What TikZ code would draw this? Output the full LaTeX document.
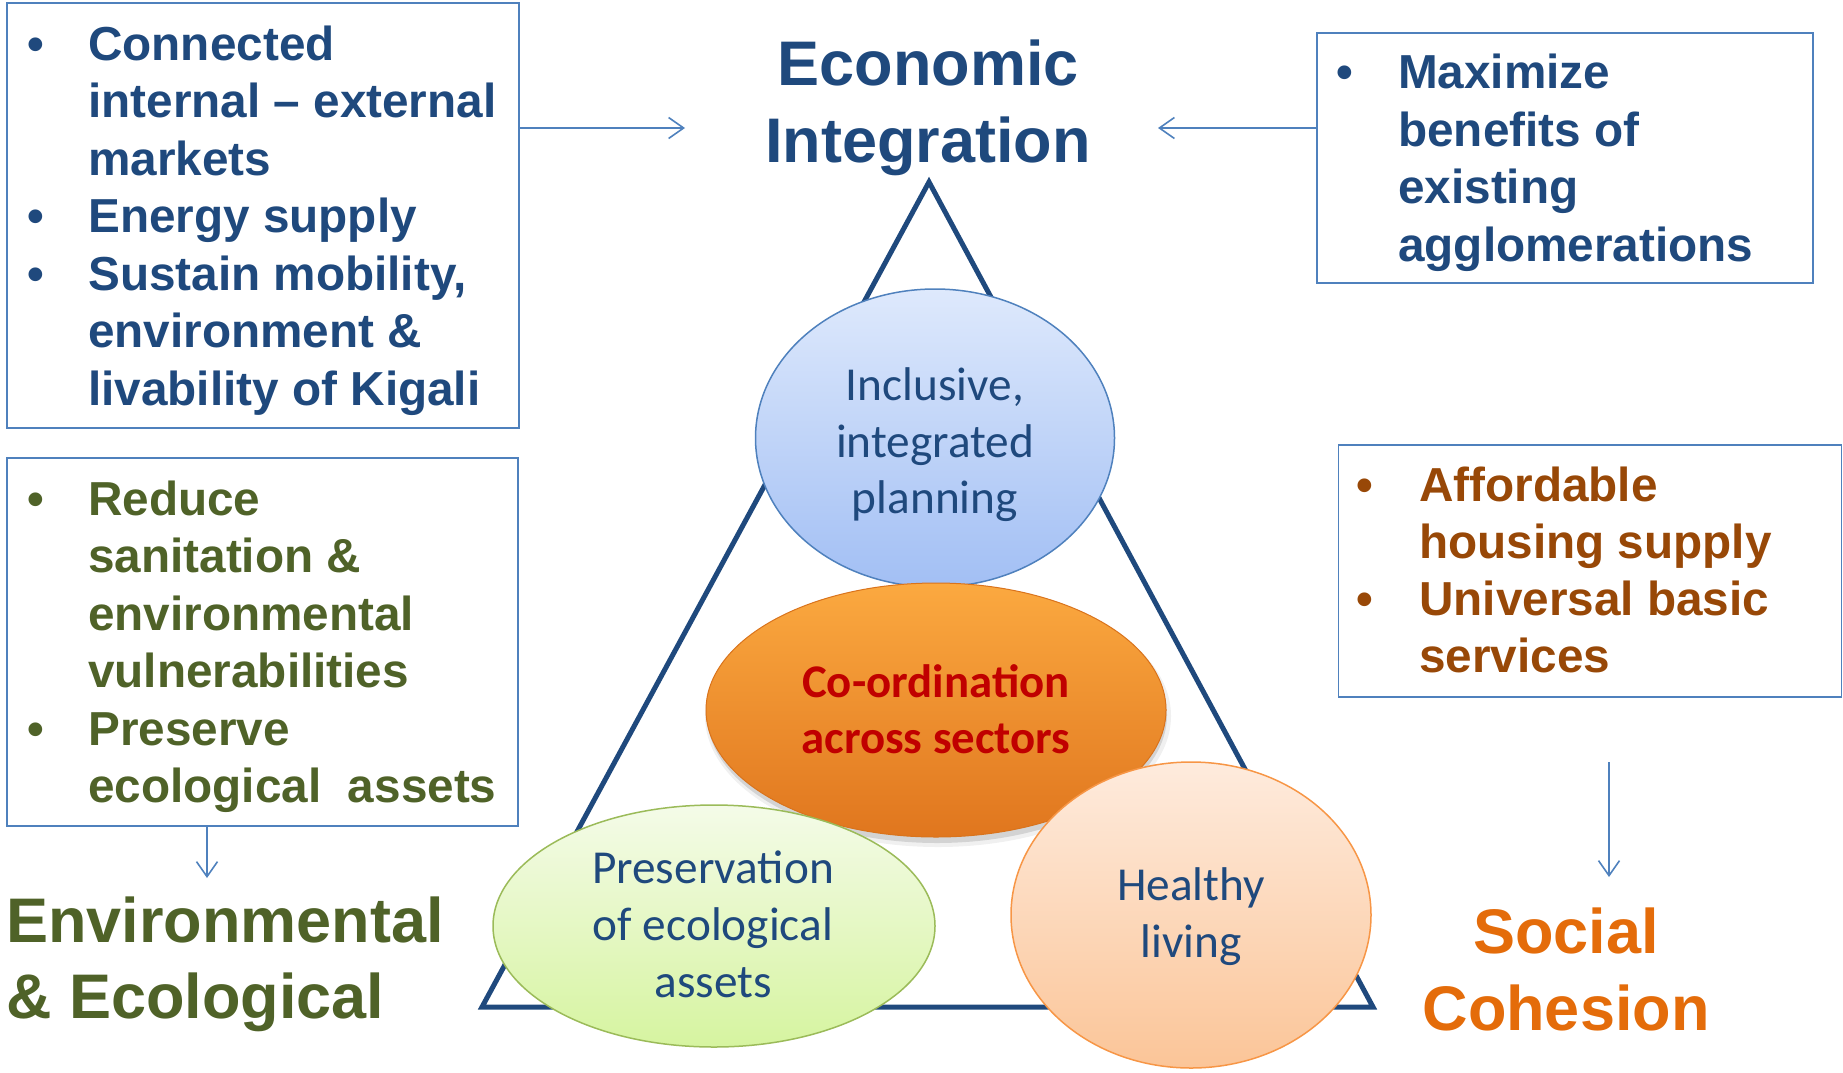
\documentclass[tikz,border=0pt]{standalone}
\usepackage{fontspec}
\setmainfont{Liberation Sans}
\newfontfamily\calibri{Carlito}
\usetikzlibrary{arrows.meta,shapes.geometric}
\definecolor{dblue}{HTML}{1F497D}
\definecolor{lblue}{HTML}{4F81BD}
\definecolor{dgreen}{HTML}{4F6228}
\definecolor{sbrown}{HTML}{984807}
\definecolor{sorange}{HTML}{E46C0A}
\definecolor{dred}{HTML}{C00000}
\definecolor{eBlueTop}{HTML}{DEE9FC}
\definecolor{eBlueBot}{HTML}{A2BFF4}
\definecolor{eOrTop}{HTML}{FBA940}
\definecolor{eOrBot}{HTML}{E0761E}
\definecolor{eOrLine}{HTML}{D9731C}
\definecolor{eGrTop}{HTML}{F4FBE8}
\definecolor{eGrBot}{HTML}{D6F4A0}
\definecolor{eGrLine}{HTML}{9BBB59}
\definecolor{ePeTop}{HTML}{FEEBDD}
\definecolor{ePeBot}{HTML}{FBC598}
\definecolor{ePeLine}{HTML}{F79646}
\begin{document}
\begin{tikzpicture}[x=1pt,y=-1pt,
  box/.style={draw=lblue,line width=1.8pt,inner sep=0pt},
  arr/.style={draw=lblue,line width=1.6pt,-{Straight Barb[length=15pt,width=21pt]}},
  bl/.style={anchor=base west,inner sep=0pt,font=\fontsize{47.7}{57.5}\selectfont\bfseries},
  bul/.style={anchor=base,inner sep=0pt,font=\fontsize{47.7}{57.5}\selectfont\bfseries},
  ttl/.style={inner sep=0pt,font=\fontsize{63}{76}\selectfont\bfseries},
  etxt/.style={anchor=base,inner sep=0pt,text=dblue,font=\calibri\fontsize{47.3}{57}\selectfont},
  otxt/.style={anchor=base,inner sep=0pt,text=dred,font=\calibri\bfseries\fontsize{46.8}{57}\selectfont},
  ell/.style={ellipse,inner sep=0pt,line width=1.5pt},
  tri/.style={draw=dblue,line width=5pt}
]
\useasboundingbox (0,0) rectangle (1843,1072);

% ---------- boxes ----------
\node[box,minimum width=512pt,minimum height=425pt] (b1) at (263,215.5) {};
\node[box,minimum width=496pt,minimum height=250pt] (b2) at (1565,158) {};
\node[box,minimum width=503pt,minimum height=252pt] (b3) at (1590,571) {};
\node[box,minimum width=511pt,minimum height=368pt] (b4) at (262.5,642) {};

% ---------- box 1 text ----------
\begin{scope}[every node/.append style={text=dblue}]
\node[bul] (b1u1) at (36,60) {•};
\node[bul] (b1u2) at (36,232) {•};
\node[bul] (b1u3) at (36,290) {•};
\node[bl] (b1l1) at (88,60) {Connected};
\node[bl] (b1l2) at (88,117) {internal – external};
\node[bl] (b1l3) at (88,175) {markets};
\node[bl] (b1l4) at (88,232) {Energy supply};
\node[bl] (b1l5) at (88,290) {Sustain mobility,};
\node[bl] (b1l6) at (88,347) {environment \&};
\node[bl] (b1l7) at (88,405) {livability of Kigali};
% box 2 text
\node[bul] (b2u1) at (1345,88) {•};
\node[bl] (b2l1) at (1398,88) {Maximize};
\node[bl] (b2l2) at (1398,146) {benefits of};
\node[bl] (b2l3) at (1398,203) {existing};
\node[bl] (b2l4) at (1398,261) {agglomerations};
\end{scope}

% ---------- box 3 text ----------
\begin{scope}[every node/.append style={text=sbrown}]
\node[bul] (b3u1) at (1365,501) {•};
\node[bul] (b3u2) at (1365,615) {•};
\node[bl] (b3l1) at (1419,501) {Affordable};
\node[bl] (b3l2) at (1419,558) {housing supply};
\node[bl] (b3l3) at (1419,615) {Universal basic};
\node[bl] (b3l4) at (1419,672) {services};
\end{scope}

% ---------- box 4 text ----------
\begin{scope}[every node/.append style={text=dgreen}]
\node[bul] (b4u1) at (36,515) {•};
\node[bul] (b4u2) at (36,745) {•};
\node[bl] (b4l1) at (88,515) {Reduce};
\node[bl] (b4l2) at (88,572.5) {sanitation \&};
\node[bl] (b4l3) at (88,630) {environmental};
\node[bl] (b4l4) at (88,687.5) {vulnerabilities};
\node[bl] (b4l5) at (88,745) {Preserve};
\node[bl] (b4l6) at (88,802.5) {ecological\ \ assets};
\end{scope}

% ---------- titles ----------
\node[ttl,anchor=base,text=dblue] (ec1) at (928,85) {Economic};
\node[ttl,anchor=base,text=dblue] (ec2) at (928,162) {Integration};
\node[ttl,anchor=base west,text=dgreen] (en1) at (6,942) {Environmental};
\node[ttl,anchor=base west,text=dgreen] (en2) at (6,1018) {\& Ecological};
\node[ttl,anchor=base,text=sorange] (so1) at (1566,953) {Social};
\node[ttl,anchor=base,text=sorange] (so2) at (1566,1030) {Cohesion};

% ---------- arrows ----------
\coordinate (a1end) at (685,128);
\coordinate (a2end) at (1158,128);
\coordinate (a3start) at (1609,762);
\coordinate (a3end) at (1609,877);
\coordinate (a4end) at (207,878);
\draw[arr] (b1.east |- a1end) -- (a1end);
\draw[arr] (b2.west |- a2end) -- (a2end);
\draw[arr] (a3start) -- (a3end);
\draw[arr] (b4.south -| a4end) -- (a4end);

% ---------- triangle ----------
\coordinate (tA) at (929,182);
\coordinate (tB) at (482,1007);
\coordinate (tC) at (1373,1007);
\draw[tri] (tA) -- (tB) -- (tC) -- cycle;

% ---------- ellipses ----------
\node[ell,draw=lblue,top color=eBlueTop,bottom color=eBlueBot,minimum width=359pt,minimum height=298pt] (e1) at (935,438) {};
\node[ell,fill=black,opacity=0.06,minimum width=466pt,minimum height=262pt] (sh1) at (938,716) {};
\node[ell,fill=black,opacity=0.12,minimum width=460pt,minimum height=256pt] (sh2) at (937,715) {};
\node[ell,draw=eOrLine,line width=1pt,top color=eOrTop,bottom color=eOrBot,minimum width=460pt,minimum height=254pt] (e2) at (936,710) {};
\node[ell,draw=eGrLine,top color=eGrTop,bottom color=eGrBot,minimum width=442pt,minimum height=242pt] (e3) at (714,926) {};
\node[ell,draw=ePeLine,top color=ePeTop,bottom color=ePeBot,minimum width=360pt,minimum height=306pt] (e4) at (1191,915) {};

% ---------- ellipse texts ----------
\node[etxt] (t1a) at (935,400) {Inclusive,};
\node[etxt] (t1b) at (935,457) {integrated};
\node[etxt] (t1c) at (935,513) {planning};
\node[otxt] (t2a) at (936,697) {Co-ordination};
\node[otxt] (t2b) at (936,753) {across sectors};
\node[etxt] (t3a) at (713,883) {Preservation};
\node[etxt] (t3b) at (713,940) {of ecological};
\node[etxt] (t3c) at (713,997) {assets};
\node[etxt] (t4a) at (1191,900) {Healthy};
\node[etxt] (t4b) at (1191,957) {living};
\end{tikzpicture}
\end{document}
